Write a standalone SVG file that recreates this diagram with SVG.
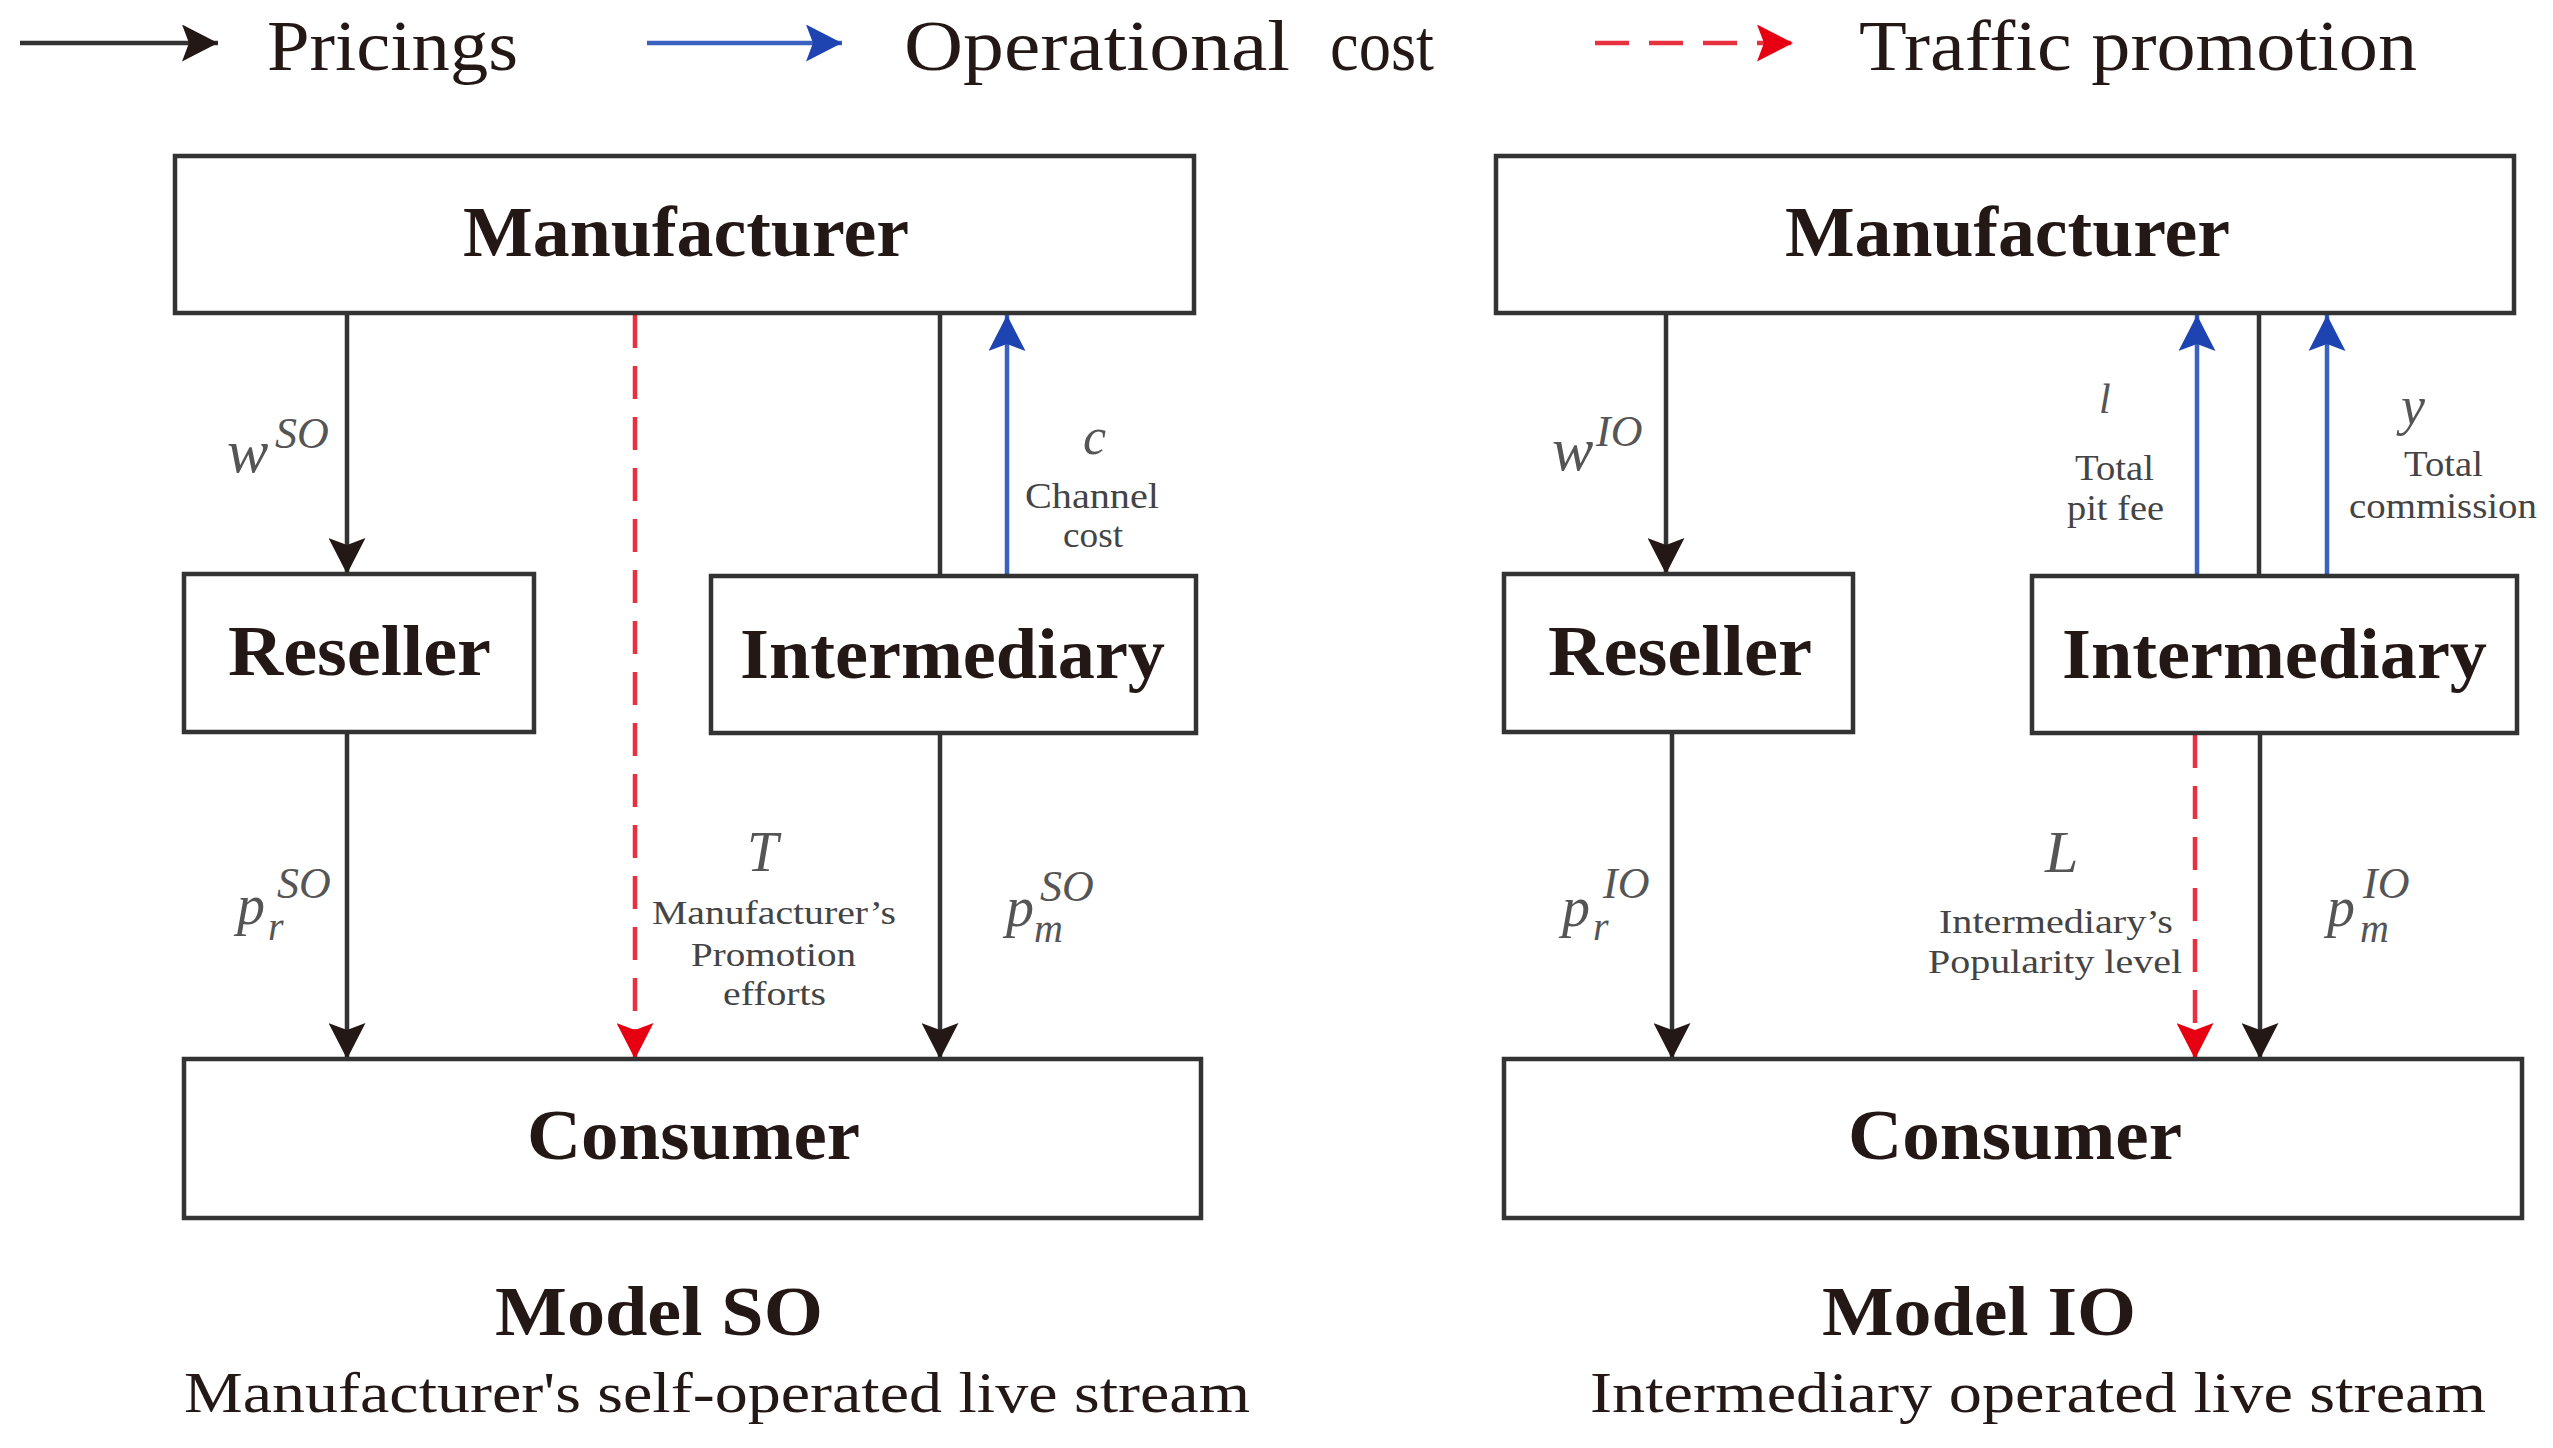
<svg xmlns="http://www.w3.org/2000/svg" width="2553" height="1448" viewBox="0 0 2553 1448">
<style>
text { font-family: "Liberation Serif", "Times New Roman", serif; fill: #231815; }
.box { fill: #fff; stroke: #333; stroke-width: 4.5; }
.node { font-weight: bold; font-size: 72px; }
.leg { font-size: 72px; }
.model { font-weight: bold; font-size: 70px; }
.sub { font-size: 56px; }
.math { font-style: italic; fill: #555; }
.small { font-size: 36px; fill: #444; }
.tiny { font-size: 33px; fill: #444; }
.blk { stroke: #333; stroke-width: 4.5; fill: none; }
.blu { stroke: #3a62c0; stroke-width: 4.5; fill: none; }
.red { stroke: #e8313f; stroke-width: 4.5; fill: none; stroke-dasharray: 33 18; }
</style>
<defs>
<marker id="ah-k" markerUnits="userSpaceOnUse" viewBox="0 0 36 37" refX="36" refY="18.5" markerWidth="36" markerHeight="37" orient="auto"><path d="M0,0 L36,18.5 L0,37 L7,18.5 Z" fill="#231815"/></marker>
<marker id="ah-b" markerUnits="userSpaceOnUse" viewBox="0 0 36 37" refX="36" refY="18.5" markerWidth="36" markerHeight="37" orient="auto"><path d="M0,0 L36,18.5 L0,37 L7,18.5 Z" fill="#1d44b0"/></marker>
<marker id="ah-r" markerUnits="userSpaceOnUse" viewBox="0 0 36 37" refX="36" refY="18.5" markerWidth="36" markerHeight="37" orient="auto"><path d="M0,0 L36,18.5 L0,37 L7,18.5 Z" fill="#e60012"/></marker>
</defs>
<rect x="0" y="0" width="2553" height="1448" fill="#fff"/>

<g id="legend">
<line class="blk" x1="20" y1="43" x2="218" y2="43" marker-end="url(#ah-k)"/>
<text class="leg" x="267" y="70" textLength="251" lengthAdjust="spacingAndGlyphs">Pricings</text>
<line class="blu" x1="647" y1="43" x2="842" y2="43" marker-end="url(#ah-b)"/>
<text class="leg" x="904" y="70" textLength="386" lengthAdjust="spacingAndGlyphs">Operational</text>
<text class="leg" x="1330" y="70" textLength="104" lengthAdjust="spacingAndGlyphs">cost</text>
<line class="red" style="stroke-dasharray:34 20" x1="1595" y1="43" x2="1793" y2="43" marker-end="url(#ah-r)"/>
<text class="leg" x="1859" y="70" textLength="558" lengthAdjust="spacingAndGlyphs">Traffic promotion</text>
</g>

<g id="connectors">
<line class="blk" x1="347" y1="313" x2="347" y2="574" marker-end="url(#ah-k)"/>
<line class="blk" x1="347" y1="732" x2="347" y2="1059" marker-end="url(#ah-k)"/>
<line class="red" x1="635" y1="315" x2="635" y2="1059" marker-end="url(#ah-r)"/>
<line class="blk" x1="940" y1="313" x2="940" y2="576"/>
<line class="blu" x1="1007" y1="576" x2="1007" y2="315" marker-end="url(#ah-b)"/>
<line class="blk" x1="940" y1="733" x2="940" y2="1059" marker-end="url(#ah-k)"/>

<line class="blk" x1="1666" y1="313" x2="1666" y2="574" marker-end="url(#ah-k)"/>
<line class="blk" x1="1672" y1="732" x2="1672" y2="1059" marker-end="url(#ah-k)"/>
<line class="blu" x1="2197" y1="576" x2="2197" y2="315" marker-end="url(#ah-b)"/>
<line class="blk" x1="2259" y1="313" x2="2259" y2="576"/>
<line class="blu" x1="2327" y1="576" x2="2327" y2="315" marker-end="url(#ah-b)"/>
<line class="red" x1="2195" y1="735" x2="2195" y2="1059" marker-end="url(#ah-r)"/>
<line class="blk" x1="2260" y1="733" x2="2260" y2="1059" marker-end="url(#ah-k)"/>
</g>

<g id="connector-labels">
<text class="math"><tspan x="227" y="472" font-size="62">w</tspan><tspan x="275" y="448" font-size="44">SO</tspan></text>
<text class="math"><tspan x="237" y="924" font-size="56">p</tspan><tspan x="277" y="898" font-size="44">SO</tspan><tspan x="268" y="940" font-size="40">r</tspan></text>
<text class="math" x="1083" y="454" font-size="52">c</text>
<text class="small" x="1025" y="508" textLength="134" lengthAdjust="spacingAndGlyphs">Channel</text>
<text class="small" x="1063" y="547" textLength="60" lengthAdjust="spacingAndGlyphs">cost</text>
<text class="math" x="747" y="871" font-size="56">T</text>
<text class="tiny" x="652" y="924" textLength="244" lengthAdjust="spacingAndGlyphs">Manufacturer’s</text>
<text class="tiny" x="691" y="966" textLength="165" lengthAdjust="spacingAndGlyphs">Promotion</text>
<text class="tiny" x="723" y="1005" textLength="103" lengthAdjust="spacingAndGlyphs">efforts</text>
<text class="math"><tspan x="1006" y="926" font-size="56">p</tspan><tspan x="1040" y="901" font-size="44">SO</tspan><tspan x="1034" y="942" font-size="40">m</tspan></text>

<text class="math"><tspan x="1552" y="470" font-size="62">w</tspan><tspan x="1596" y="446" font-size="44">IO</tspan></text>
<text class="math"><tspan x="1562" y="926" font-size="56">p</tspan><tspan x="1603" y="898" font-size="44">IO</tspan><tspan x="1593" y="940" font-size="40">r</tspan></text>
<text class="math" x="2099" y="413" font-size="42">l</text>
<text class="small" x="2075" y="480" textLength="79" lengthAdjust="spacingAndGlyphs">Total</text>
<text class="small" x="2067" y="520" textLength="97" lengthAdjust="spacingAndGlyphs">pit fee</text>
<text class="math" x="2401" y="424" font-size="54">y</text>
<text class="small" x="2404" y="476" textLength="79" lengthAdjust="spacingAndGlyphs">Total</text>
<text class="small" x="2349" y="518" textLength="188" lengthAdjust="spacingAndGlyphs">commission</text>
<text class="math" x="2045" y="872" font-size="60">L</text>
<text class="tiny" x="1939" y="933" textLength="234" lengthAdjust="spacingAndGlyphs">Intermediary’s</text>
<text class="tiny" x="1928" y="973" textLength="254" lengthAdjust="spacingAndGlyphs">Popularity level</text>
<text class="math"><tspan x="2327" y="926" font-size="56">p</tspan><tspan x="2363" y="898" font-size="44">IO</tspan><tspan x="2360" y="942" font-size="40">m</tspan></text>
</g>

<g id="so-manufacturer"><rect class="box" x="175" y="156" width="1019" height="157"/><text class="node" x="463" y="256" textLength="446" lengthAdjust="spacingAndGlyphs">Manufacturer</text></g>
<g id="so-reseller"><rect class="box" x="184" y="574" width="350" height="158"/><text class="node" x="228" y="675" textLength="263" lengthAdjust="spacingAndGlyphs">Reseller</text></g>
<g id="so-intermediary"><rect class="box" x="711" y="576" width="485" height="157"/><text class="node" x="740" y="678" textLength="425" lengthAdjust="spacingAndGlyphs">Intermediary</text></g>
<g id="so-consumer"><rect class="box" x="184" y="1059" width="1017" height="159"/><text class="node" x="527" y="1159" textLength="333" lengthAdjust="spacingAndGlyphs">Consumer</text></g>

<g id="io-manufacturer"><rect class="box" x="1496" y="156" width="1018" height="157"/><text class="node" x="1785" y="256" textLength="445" lengthAdjust="spacingAndGlyphs">Manufacturer</text></g>
<g id="io-reseller"><rect class="box" x="1504" y="574" width="349" height="158"/><text class="node" x="1548" y="675" textLength="264" lengthAdjust="spacingAndGlyphs">Reseller</text></g>
<g id="io-intermediary"><rect class="box" x="2032" y="576" width="485" height="157"/><text class="node" x="2062" y="678" textLength="425" lengthAdjust="spacingAndGlyphs">Intermediary</text></g>
<g id="io-consumer"><rect class="box" x="1504" y="1059" width="1018" height="159"/><text class="node" x="1848" y="1159" textLength="334" lengthAdjust="spacingAndGlyphs">Consumer</text></g>

<g id="captions">
<text class="model" x="495" y="1335" textLength="328" lengthAdjust="spacingAndGlyphs">Model SO</text>
<text class="sub" x="184" y="1412" textLength="1066" lengthAdjust="spacingAndGlyphs">Manufacturer's self-operated live stream</text>
<text class="model" x="1822" y="1335" textLength="314" lengthAdjust="spacingAndGlyphs">Model IO</text>
<text class="sub" x="1590" y="1412" textLength="896" lengthAdjust="spacingAndGlyphs">Intermediary operated live stream</text>
</g>
</svg>
